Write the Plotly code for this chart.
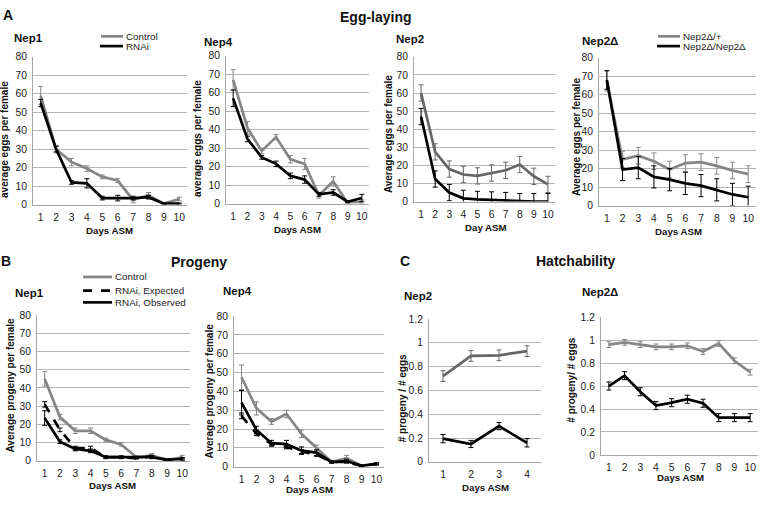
import plotly.graph_objects as go

W, H = 760, 505
FONT = "Liberation Sans, Arial, sans-serif"
GRAY = "#868686"
DGRAY = "#666666"
BLACK = "#000000"

days10 = [1, 2, 3, 4, 5, 6, 7, 8, 9, 10]
days4 = [1, 2, 3, 4]

# ---- A: Egg-laying ----
a_nep1_ctrl = [59, 30, 23, 19.5, 15, 13, 2.5, 5, 0.5, 3]
a_nep1_ctrl_err = [5, 2, 2, 1.5, 1, 1, 1.5, 1.5, 0.5, 1]
a_nep1_rnai = [55, 30, 12, 11.5, 3.5, 3.5, 3.5, 4, 0.5, 0.5]
a_nep1_rnai_err = [2, 1.5, 1, 2.5, 1, 1.5, 1, 1, 0.3, 0.3]

a_nep4_ctrl = [67, 41, 28.5, 36, 24, 21.5, 4.5, 12, 0.5, 1]
a_nep4_ctrl_err = [5.5, 3.5, 1.5, 1.5, 2, 3, 1.5, 2.5, 0.5, 1]
a_nep4_rnai = [57, 35, 25, 21.5, 15, 13, 5, 6, 1, 3]
a_nep4_rnai_err = [4.5, 1.5, 1, 1.5, 1.5, 2, 1, 1.5, 0.5, 2]

a_nep2_ctrl = [60, 27.5, 18, 15, 14.2, 15.8, 17.3, 20.5, 14, 9.5]
a_nep2_ctrl_err = [4.5, 4.5, 4.5, 4.5, 4.5, 4.5, 4.5, 4.5, 4.5, 4.5]
a_nep2_mut = [47, 12.5, 5, 1.8, 1.2, 0.9, 0.6, 0, 0, 0]
a_nep2_mut_err = [4.5, 4.5, 4.5, 4.5, 4.5, 4.5, 4.5, 4.5, 4.5, 4.5]

a_nep2d_het = [67.5, 25, 27, 24, 19.5, 23, 23.5, 21.5, 19, 17]
a_nep2d_het_err = [5.5, 4.5, 4.5, 4.5, 4.5, 4.5, 4.5, 4.5, 4.5, 4.5]
a_nep2d_hom = [68, 19.5, 20.5, 15.5, 14, 12, 10.8, 8.5, 6, 4.5]
a_nep2d_hom_err = [5, 6, 6, 6, 6, 6, 6, 6, 6, 6]

# ---- B: Progeny ----
b_nep1_ctrl = [45, 24, 16.5, 16.5, 11.5, 9, 2, 3, 0.5, 2]
b_nep1_ctrl_err = [4, 1.5, 1.5, 1.5, 1, 1, 0.5, 1, 0.3, 1]
b_nep1_exp = [31, 17, 7, 7, 2, 2, 1.5, 2.5, 0.5, 1]
b_nep1_exp_err = [1.5, 1, 1, 1, 0.5, 0.5, 0.5, 0.5, 0.3, 0.5]
b_nep1_obs = [23.5, 10.5, 6.5, 5.5, 2, 2, 2, 2, 0.5, 1]
b_nep1_obs_err = [4, 1, 1, 1, 0.8, 0.8, 0.5, 0.8, 0.3, 0.8]

b_nep4_ctrl = [47.5, 31, 24, 28, 17.5, 10, 2.5, 4.5, 0.5, 1.5]
b_nep4_ctrl_err = [6.5, 3.5, 1.5, 2, 2, 1.5, 0.5, 1.5, 0.3, 0.5]
b_nep4_exp = [27, 17.5, 12, 10.5, 8, 6.5, 2.5, 2.5, 0.5, 1.5]
b_nep4_exp_err = [1.5, 1, 1, 1, 1, 1, 0.5, 0.5, 0.3, 0.5]
b_nep4_obs = [34, 19.5, 12.5, 12, 8.5, 7.5, 2.5, 3, 0.5, 1.5]
b_nep4_obs_err = [6.5, 2, 1.5, 2, 2, 1.5, 0.5, 1, 0.3, 0.5]

# ---- C: Hatchability ----
c_nep2_ctrl = [0.72, 0.89, 0.895, 0.93]
c_nep2_ctrl_err = [0.045, 0.045, 0.045, 0.045]
c_nep2_mut = [0.195, 0.15, 0.30, 0.16]
c_nep2_mut_err = [0.035, 0.03, 0.03, 0.035]

c_nep2d_ctrl = [0.96, 0.98, 0.96, 0.94, 0.94, 0.95, 0.90, 0.97, 0.82, 0.72]
c_nep2d_ctrl_err = [0.025] * 10
c_nep2d_mut = [0.60, 0.69, 0.55, 0.43, 0.455, 0.485, 0.45, 0.325, 0.325, 0.325]
c_nep2d_mut_err = [0.035] * 10

# ---- layout helpers ----
def px_x(p):
    return p / W


def px_y(p):
    return 1 - p / H


fig = go.Figure()

# panel: (axis suffix, x-left, x-right, y-top, y-bottom, ymax, dtick, days, series)
panels = [
    ("", 33, 187, 53, 204, 80, 10, days10, [
        (a_nep1_ctrl, a_nep1_ctrl_err, GRAY, "solid"),
        (a_nep1_rnai, a_nep1_rnai_err, BLACK, "solid")]),
    ("2", 226, 369, 52, 203, 80, 10, days10, [
        (a_nep4_ctrl, a_nep4_ctrl_err, GRAY, "solid"),
        (a_nep4_rnai, a_nep4_rnai_err, BLACK, "solid")]),
    ("3", 414, 555, 53, 201, 80, 10, days10, [
        (a_nep2_ctrl, a_nep2_ctrl_err, DGRAY, "solid"),
        (a_nep2_mut, a_nep2_mut_err, BLACK, "solid")]),
    ("4", 599, 756, 54, 205, 80, 10, days10, [
        (a_nep2d_het, a_nep2d_het_err, GRAY, "solid"),
        (a_nep2d_hom, a_nep2d_hom_err, BLACK, "solid")]),
    ("5", 37, 190, 317, 466, 80, 10, days10, [
        (b_nep1_ctrl, b_nep1_ctrl_err, GRAY, "solid"),
        (b_nep1_exp, b_nep1_exp_err, BLACK, "dash"),
        (b_nep1_obs, b_nep1_obs_err, BLACK, "solid")]),
    ("6", 234, 384, 318, 472, 80, 10, days10, [
        (b_nep4_ctrl, b_nep4_ctrl_err, GRAY, "solid"),
        (b_nep4_exp, b_nep4_exp_err, BLACK, "dash"),
        (b_nep4_obs, b_nep4_obs_err, BLACK, "solid")]),
    ("7", 429, 541, 321, 467, 1.2, 0.2, days4, [
        (c_nep2_ctrl, c_nep2_ctrl_err, DGRAY, "solid"),
        (c_nep2_mut, c_nep2_mut_err, BLACK, "solid")]),
    ("8", 601, 758, 319, 460, 1.2, 0.2, days10, [
        (c_nep2d_ctrl, c_nep2d_ctrl_err, GRAY, "solid"),
        (c_nep2d_mut, c_nep2d_mut_err, BLACK, "solid")]),
]

tickfont = dict(family=FONT, size=10.3, color="#222222")

for suf, xl, xr, yt, yb, ymax, dt, days, series in panels:
    xa = "x" + suf
    ya = "y" + suf
    for vals, err, col, dash in series:
        fig.add_trace(go.Scatter(
            x=days, y=vals, xaxis=xa, yaxis=ya, mode="lines",
            line=dict(color=col, width=2.7, dash=dash),
            error_y=dict(type="data", array=err, visible=True,
                         color=col, thickness=1, width=2.5),
            showlegend=False, hoverinfo="skip"))
    fig.layout["xaxis" + suf] = dict(
        domain=[px_x(xl), px_x(xr)], anchor=ya,
        range=[0.5, len(days) + 0.5], tickvals=days,
        showgrid=False, zeroline=False, showline=True,
        linecolor="#a6a6a6", linewidth=1,
        ticks="outside", ticklen=3, tickcolor="rgba(0,0,0,0)",
        ticklabeloverflow="allow",
        tickfont=tickfont, fixedrange=True)
    fig.layout["yaxis" + suf] = dict(
        domain=[px_y(yb), px_y(yt)], anchor=xa,
        range=[0, ymax], dtick=dt, tick0=0,
        showgrid=True, gridcolor="#b4b4b4", gridwidth=1,
        zeroline=False, showline=True, linecolor="#a6a6a6", linewidth=1,
        ticks="outside", ticklen=3, tickcolor="rgba(0,0,0,0)",
        ticklabeloverflow="allow",
        tickfont=tickfont, fixedrange=True)

annotations = []


def text(t, x, y, size, bold=True, xanchor="center", angle=0, color="#111111"):
    annotations.append(dict(
        text=("<b>%s</b>" % t) if bold else t,
        x=px_x(x), y=px_y(y), xref="paper", yref="paper",
        xanchor=xanchor, yanchor="middle", showarrow=False,
        textangle=angle, font=dict(family=FONT, size=size, color=color)))


# section letters and headings
text("A", 8, 10, 14)
text("Egg-laying", 376, 12, 14)
text("B", 6, 262, 14)
text("Progeny", 199, 263, 14)
text("C", 405, 262, 14)
text("Hatchability", 576, 262, 14)

# panel titles
text("Nep1", 12, 34, 11.5, xanchor="left")
text("Nep4", 202, 38, 11.5, xanchor="left")
text("Nep2", 394, 35, 11.5, xanchor="left")
text("Nep2Δ", 580, 37, 11.5, xanchor="left")
text("Nep1", 13, 294, 11.5, xanchor="left")
text("Nep4", 221, 292, 11.5, xanchor="left")
text("Nep2", 402, 297, 11.5, xanchor="left")
text("Nep2Δ", 580, 293, 11.5, xanchor="left")

# x-axis titles
text("Days ASM", 109, 231, 9.7)
text("Days ASM", 297, 229, 9.7)
text("Day ASM", 486, 227, 9.7)
text("Days ASM", 678, 232, 9.7)
text("Days ASM", 113, 491, 9.7)
text("Days ASM", 309, 495, 9.7)
text("Days ASM", 485, 493, 9.7)
text("Days ASM", 680, 483, 9.7)

# y-axis titles
text("average eggs per female", 5, 138, 10, angle=-90)
text("average eggs per female", 197, 136, 10, angle=-90)
text("Average eggs per female", 388, 132, 10, angle=-90)
text("Average eggs per female", 576, 135, 10, angle=-90)
text("Average progeny per female", 11, 389, 10, angle=-90)
text("Average progeny per female", 209, 395, 10, angle=-90)
text("# progeny / # eggs", 402, 402, 10, angle=-90)
text("# progeny/ # eggs", 572, 384, 10, angle=-90)

# legends (key line + label)
shapes = []


def key(x0, x1, y, col, label, dash="solid"):
    shapes.append(dict(type="line", xref="paper", yref="paper",
                       x0=px_x(x0), x1=px_x(x1), y0=px_y(y), y1=px_y(y),
                       line=dict(color=col, width=2.7, dash=dash)))
    text(label, x1 + 1, y, 9.8, bold=False, xanchor="left", color="#222222")


key(101, 123, 32, GRAY, "Control")
key(100, 123, 42, BLACK, "RNAi")
key(658, 680, 32, GRAY, "Nep2Δ/+")
key(657, 680, 42, BLACK, "Nep2Δ/Nep2Δ")
key(83, 112, 278, GRAY, "Control")
key(83, 112, 292, BLACK, "RNAi, Expected", dash="dash")
key(83, 112, 304, BLACK, "RNAi, Observed")

fig.update_layout(
    width=W, height=H, margin=dict(l=0, r=0, t=0, b=0),
    paper_bgcolor="white", plot_bgcolor="white",
    annotations=annotations, shapes=shapes, showlegend=False,
    font=dict(family=FONT))

fig.write_html(
    "out.html",
    config={"displayModeBar": False, "staticPlot": True},
    post_script="document.body.style.margin='0px';"
                "document.body.style.overflow='hidden';")
